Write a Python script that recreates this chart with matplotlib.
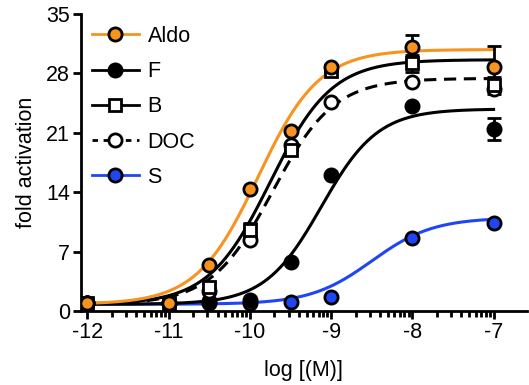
import numpy as np
import matplotlib
matplotlib.use("Agg")
import matplotlib.pyplot as plt
from matplotlib.lines import Line2D

plt.rcParams["font.family"] = ["Liberation Sans", "DejaVu Sans"]

# ---- data ----
log_conc = [-12, -11, -10.5, -10, -9.5, -9, -8, -7]

aldo = [1.0, 1.0, 5.4, 14.4, 21.2, 28.7, 31.1, 28.7]
aldo_err = [0, 0, 0, 0, 0, 0, 1.4, 2.5]
F = [1.0, 1.0, 1.2, 1.3, 5.8, 16.0, 24.1, 21.4]
F_err = [0, 0, 0, 0, 0, 0, 0, 1.3]
B = [1.0, 1.0, 2.8, 9.6, 19.0, 28.3, 29.2, 26.6]
B_err = [0, 0, 0.6, 0.8, 0, 0, 1.0, 1.0]
DOC = [1.0, 1.0, 2.4, 8.4, 19.6, 24.6, 27.0, 26.2]
DOC_err = [0, 0, 0, 0, 0, 0, 0, 0]
S = [1.0, 0.9, 0.9, 0.9, 1.1, 1.6, 8.6, 10.4]
S_err = [0, 0, 0, 0, 0, 0, 0, 0]

# fitted 4-parameter logistic parameters: bottom, top, logEC50, hill
fit_aldo = [0.8, 30.8, -9.9, 1.15]
fit_F = [0.8, 23.8, -9.12, 1.25]
fit_B = [0.8, 29.6, -9.75, 1.15]
fit_DOC = [0.8, 27.4, -9.72, 1.15]
fit_S = [0.8, 11.0, -8.5, 1.15]

x_ticks = [-12, -11, -10, -9, -8, -7]
y_ticks = [0, 7, 14, 21, 28, 35]

ORANGE = "#F7931E"
BLUE = "#1E46F5"
FS = 15.5


def logistic(x, p):
    b, t, ec, h = p
    return b + (t - b) / (1 + 10 ** ((ec - x) * h))


fig = plt.figure(figsize=(5.29, 3.85), dpi=100)
ax = fig.add_axes([0.153, 0.192, 0.843, 0.772])

xs = np.linspace(-12, -7, 300)
series = [
    ("S", S, S_err, fit_S, BLUE, "o", BLUE, "-"),
    ("F", F, F_err, fit_F, "black", "o", "black", "-"),
    ("DOC", DOC, DOC_err, fit_DOC, "black", "o", "white", "--"),
    ("B", B, B_err, fit_B, "black", "s", "white", "-"),
    ("Aldo", aldo, aldo_err, fit_aldo, ORANGE, "o", ORANGE, "-"),
]

for name, y, err, fit, lc, mk, mfc, ls in series:
    ax.plot(xs, logistic(xs, fit), color=lc, lw=2.2, ls=ls, zorder=2,
            dashes=(4, 2.5) if ls == "--" else (None, None))
for name, y, err, fit, lc, mk, mfc, ls in series:
    ax.errorbar(log_conc, y, yerr=err, fmt="none", ecolor="black",
                elinewidth=2, capsize=5, capthick=2, zorder=3)
    ax.plot(log_conc, y, ls="none", marker=mk, ms=9.5 if mk == "o" else 8.5,
            mfc=mfc, mec="black", mew=2, zorder=4)

ax.set_xlim(-12.08, -6.59)
ax.set_ylim(0, 35)
ax.set_xticks(x_ticks)
ax.set_xticklabels([str(t) for t in x_ticks])
ax.set_yticks(y_ticks)
minor = [d + np.log10(k) for d in range(-12, -7) for k in range(2, 10)]
ax.set_xticks(minor, minor=True)

for s in ["top", "right"]:
    ax.spines[s].set_visible(False)
for s in ["left", "bottom"]:
    ax.spines[s].set_linewidth(2)
ax.tick_params(axis="both", which="major", length=6, width=2, labelsize=FS,
               direction="out", pad=2)
ax.tick_params(axis="x", which="minor", length=4, width=2, direction="out")
ax.set_xlabel("log [(M)]", fontsize=FS, va="center")
ax.set_ylabel("fold activation", fontsize=FS, va="center")
ax.xaxis.set_label_coords(0.5, -0.2)
ax.yaxis.set_label_coords(-0.122, 0.5)

handles = [
    Line2D([], [], color=ORANGE, lw=2, marker="o", ms=9.5, mfc=ORANGE, mec="black", mew=2),
    Line2D([], [], color="black", lw=2, marker="o", ms=9.5, mfc="black", mec="black", mew=2),
    Line2D([], [], color="black", lw=2, marker="s", ms=8.5, mfc="white", mec="black", mew=2),
    Line2D([], [], color="black", lw=2, ls=(0, (2, 2)), marker="o", ms=9.5, mfc="white", mec="black", mew=2),
    Line2D([], [], color=BLUE, lw=2, marker="o", ms=9.5, mfc=BLUE, mec="black", mew=2),
]
ax.legend(handles, ["Aldo", "F", "B", "DOC", "S"], loc="upper left",
          bbox_to_anchor=(-0.01, 1.01), frameon=False, fontsize=FS,
          handlelength=2.2, labelspacing=0.66, handletextpad=0.4,
          borderaxespad=0.3)

fig.savefig("out.png", dpi=100)
